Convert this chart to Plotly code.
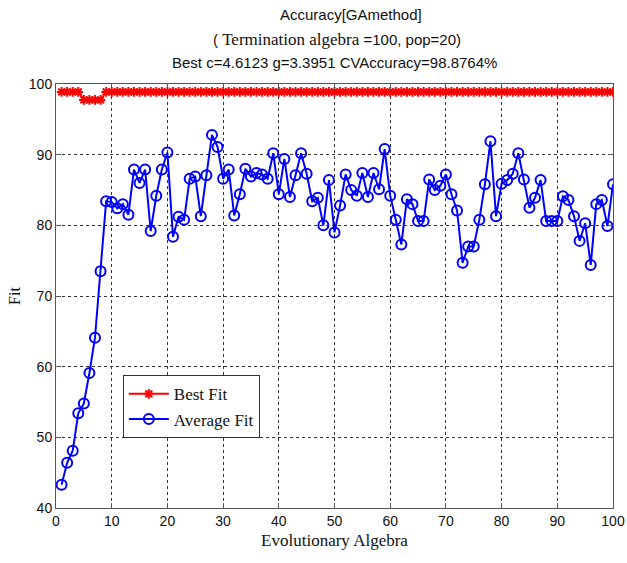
import plotly.graph_objects as go

generations = list(range(1, 101))

best_fit = [98.88, 98.88, 98.88, 98.88, 97.75, 97.75, 97.75, 97.75] + [98.88] * 92

average_fit = [
    43.3, 46.4, 48.1, 53.4, 54.8, 59.1, 64.1, 73.5, 83.4, 83.3,
    82.4, 83.0, 81.5, 87.9, 86.0, 87.9, 79.2, 84.2, 87.9, 90.3,
    78.4, 81.2, 80.8, 86.6, 86.9, 81.3, 87.1, 92.8, 91.1, 86.6,
    87.9, 81.4, 84.4, 88.0, 86.9, 87.4, 87.2, 86.6, 90.2, 84.4,
    89.4, 84.0, 87.1, 90.2, 87.3, 83.4, 83.9, 80.0, 86.4, 79.0,
    82.8, 87.2, 85.0, 84.2, 87.4, 84.0, 87.4, 85.1, 90.8, 84.2,
    80.8, 77.3, 83.7, 83.0, 80.6, 80.6, 86.5, 85.0, 85.6, 87.2,
    84.4, 82.1, 74.7, 77.0, 77.0, 80.8, 85.8, 91.9, 81.3, 85.9,
    86.4, 87.3, 90.2, 86.5, 82.5, 83.9, 86.4, 80.6, 80.6, 80.6,
    84.1, 83.6, 81.3, 77.8, 80.3, 74.4, 83.0, 83.6, 79.9, 85.8,
]

x_ticks = list(range(0, 101, 10))
y_ticks = list(range(40, 101, 10))

title_lines = [
    "Accuracy[GAmethod]",
    '( <span style="font-family:\'Liberation Serif\';font-size:17px">Termination algebra</span> =100, pop=20)',
    "Best c=4.6123 g=3.3951 CVAccuracy=98.8764%",
]

SANS = "Liberation Sans, Arial, sans-serif"
SERIF = "Liberation Serif, Times New Roman, serif"

fig = go.Figure()
fig.add_trace(go.Scatter(
    x=generations, y=best_fit, mode="lines+markers", name="Best Fit",
    line=dict(color="#ff0000", width=2),
    marker=dict(symbol="asterisk-open", size=8, color="#ff0000",
                line=dict(color="#ff0000", width=2)),
))
fig.add_trace(go.Scatter(
    x=generations, y=average_fit, mode="lines+markers", name="Average Fit",
    line=dict(color="#0000ff", width=2),
    marker=dict(symbol="circle-open", size=10, color="#0000ff",
                line=dict(color="#0000ff", width=2)),
))

axis_common = dict(
    showline=True, linecolor="#555555", linewidth=1, mirror="ticks",
    ticks="inside", ticklen=5, tickcolor="#555555",
    showgrid=True, gridcolor="#333333", griddash="dot", gridwidth=1,
    zeroline=False, automargin=False,
    tickfont=dict(family=SANS, size=14, color="#111111"),
)

fig.update_layout(
    width=627, height=563,
    margin=dict(l=56, r=14, t=84, b=55),
    paper_bgcolor="white", plot_bgcolor="white",
    showlegend=True,
    legend=dict(
        x=0.12, y=0.313, xanchor="left", yanchor="top",
        bgcolor="white", bordercolor="#333333", borderwidth=1,
        font=dict(family=SERIF, size=17, color="#111111"),
        tracegroupgap=0, itemwidth=40,
    ),
    xaxis=dict(range=[0, 100], tickvals=x_ticks, **axis_common,
               title=dict(text="Evolutionary Algebra", standoff=6,
                          font=dict(family=SERIF, size=17, color="#111111"))),
    yaxis=dict(range=[40, 100], tickvals=y_ticks, **axis_common,
               title=dict(text="Fit", standoff=4,
                          font=dict(family=SERIF, size=16, color="#111111"))),
)

ys = [1.164, 1.106, 1.051]
xs = [0.53, 0.505, 0.5]
for txt, yy, xx in zip(title_lines, ys, xs):
    fig.add_annotation(text=txt, x=xx, y=yy, xref="paper", yref="paper",
                       showarrow=False, xanchor="center", yanchor="middle",
                       font=dict(family=SANS, size=15, color="#111111"))

fig.write_html(
    "out.html",
    config={"displayModeBar": False},
    post_script="document.body.style.margin='0';document.body.style.padding='0';",
)
